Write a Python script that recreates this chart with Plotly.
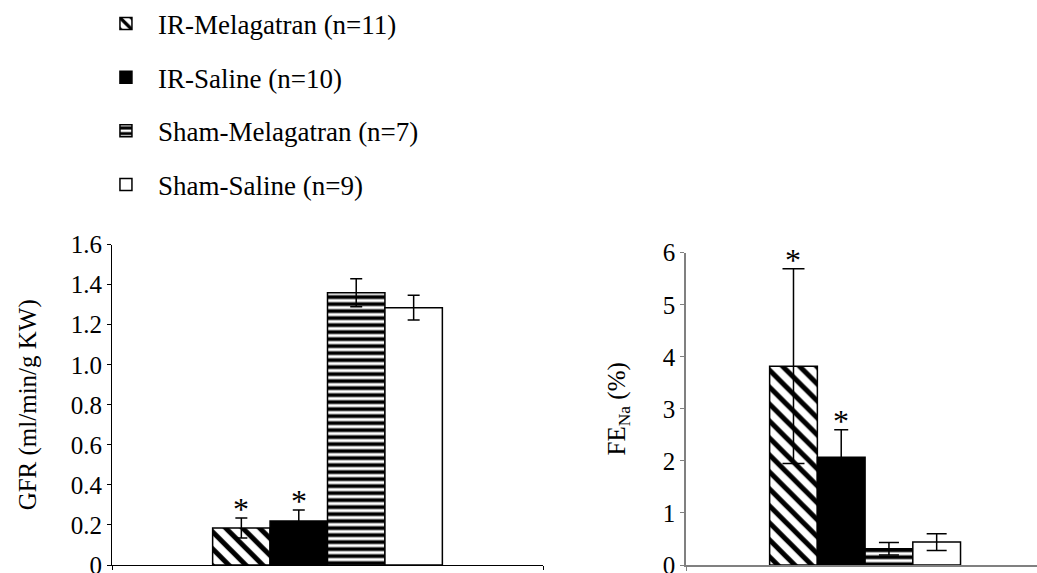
import plotly.graph_objects as go

# ---------------- data ----------------
groups = ["IR-Melagatran (n=11)", "IR-Saline (n=10)",
          "Sham-Melagatran (n=7)", "Sham-Saline (n=9)"]
category = ["all"]

gfr_mean = [0.185, 0.22, 1.36, 1.285]
gfr_err = [0.05, 0.055, 0.07, 0.062]
gfr_sig = [True, True, False, False]

fena_mean = [3.82, 2.07, 0.31, 0.44]
fena_err = [1.87, 0.53, 0.12, 0.16]
fena_sig = [True, True, False, False]

gfr_tickvals = [0, 0.2, 0.4, 0.6, 0.8, 1.0, 1.2, 1.4, 1.6]
gfr_ticktext = ["0", "0.2", "0.4", "0.6", "0.8", "1.0", "1.2", "1.4", "1.6"]
fena_tickvals = [0, 1, 2, 3, 4, 5, 6]
fena_ticktext = ["0", "1", "2", "3", "4", "5", "6"]

# ---------------- styles ----------------
FONT = "Liberation Serif"
FS = 25
LEG_FS = 27
bar_colors = ["white", "black", "white", "white"]
pattern_shapes = ["\\", "", "-", ""]
pattern_sizes = [12, 8, 7, 8]
pattern_solid = [0.42, 0.3, 0.55, 0.3]
err_w_left = [6, 6, 6, 6]
err_w_right = [11, 7, 10, 10]
BARGAP = 0.467

fig = go.Figure()

def add_bars(means, errs, xa, ya, showlegend, errw):
    for i, g in enumerate(groups):
        pat = dict(shape=pattern_shapes[i], fgcolor="black", bgcolor=bar_colors[i],
                   size=pattern_sizes[i], solidity=pattern_solid[i], fillmode="replace")
        fig.add_trace(go.Bar(
            x=category, y=[means[i]], name=g, legendgroup=g,
            showlegend=showlegend, xaxis=xa, yaxis=ya,
            marker=dict(color=bar_colors[i], pattern=pat,
                        line=dict(color="black", width=1.5)),
            error_y=dict(type="data", array=[errs[i]], color="black",
                         thickness=1.5, width=errw[i], visible=True),
        ))

add_bars(gfr_mean, gfr_err, "x", "y", True, err_w_left)
add_bars(fena_mean, fena_err, "x2", "y2", False, err_w_right)

# asterisks above significant bars
gw = 1 - BARGAP
bw = gw / len(groups)
offsets = [-gw / 2 + (i + 0.5) * bw for i in range(len(groups))]
for means, errs, sig, xr, yr in [(gfr_mean, gfr_err, gfr_sig, "x", "y"),
                                 (fena_mean, fena_err, fena_sig, "x2", "y2")]:
    for i in range(len(groups)):
        if sig[i]:
            fig.add_annotation(x=offsets[i], y=means[i] + errs[i], xref=xr, yref=yr,
                               text="*", showarrow=False, yanchor="middle", yshift=9,
                               font=dict(family=FONT, size=32, color="black"))

W, H = 1037, 573
axis_common = dict(showgrid=False, zeroline=False, ticks="outside", ticklen=4,
                   ticklabeloverflow="allow", automargin=False,
                   tickfont=dict(family=FONT, size=FS, color="black"))

fig.update_layout(
    width=W, height=H,
    margin=dict(l=0, r=0, t=0, b=8, autoexpand=False),
    paper_bgcolor="white", plot_bgcolor="white",
    barmode="group", bargap=BARGAP, bargroupgap=0,
    font=dict(family=FONT, size=FS, color="black"),
    showlegend=True,
    legend=dict(x=0.0906, y=1.0008, xanchor="left", yanchor="top",
                traceorder="grouped", tracegroupgap=15.5, itemwidth=54,
                font=dict(family=FONT, size=LEG_FS, color="black"),
                bgcolor="rgba(0,0,0,0)"),
    xaxis=dict(domain=[112 / W, 543 / W], range=[-0.5, 0.5], type="category",
               showline=True, linecolor="black", linewidth=1.2, automargin=False,
               ticks="outside", tickson="boundaries", ticklen=4, tickcolor="black",
               showticklabels=False, showgrid=False, zeroline=False),
    yaxis=dict(domain=[0, (565 - 244.6) / 565], range=[0, 1.6],
               tickmode="array", tickvals=gfr_tickvals, ticktext=gfr_ticktext,
               showline=True, linecolor="black", linewidth=1.2, tickcolor="black",
               title=dict(text="GFR (ml/min/g KW)", standoff=26,
                          font=dict(family=FONT, size=FS, color="black")),
               **axis_common),
    xaxis2=dict(domain=[686 / W, 1.0], range=[-0.5, 0.48], type="category",
                anchor="y2", automargin=False,
                showline=True, linecolor="#808080", linewidth=1.5,
                ticks="outside", tickson="boundaries", ticklen=4, tickcolor="#808080",
                showticklabels=False, showgrid=False, zeroline=False),
    yaxis2=dict(domain=[0, (565 - 252.7) / 565], range=[0, 6], anchor="x2",
                tickmode="array", tickvals=fena_tickvals, ticktext=fena_ticktext,
                showline=True, linecolor="#808080", linewidth=1.5, tickcolor="#808080",
                title=dict(text="FE<sub>Na</sub> (%)", standoff=30,
                           font=dict(family=FONT, size=FS, color="black")),
                **axis_common),
)

fig.write_html("out.html")
